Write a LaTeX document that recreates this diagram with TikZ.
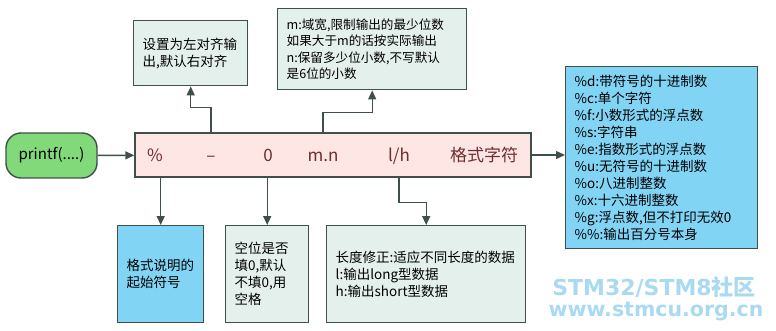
\documentclass[tikz,border=0pt]{standalone}
\usepackage{fontspec}
\setmainfont{Noto Sans CJK SC}
\newfontfamily\wmfont{DejaVu Sans}
\usetikzlibrary{arrows.meta}
\definecolor{edge}{HTML}{3F504B}
\definecolor{mint}{HTML}{E4F0EC}
\definecolor{sky}{HTML}{82D4F5}
\definecolor{rose}{HTML}{FDE6E3}
\definecolor{leaf}{HTML}{82D97A}
\definecolor{maroon}{HTML}{6E2E2E}
\definecolor{wmblue}{HTML}{A9DAF2}

\begin{document}
\begin{tikzpicture}[x=1pt, y=-1pt, line width=1.4pt,
    every node/.style={font=\fontsize{13.5}{17}\selectfont},
    box/.style={draw=edge, fill=mint, inner xsep=9pt, inner ysep=0pt, align=left, anchor=north west},
    sym/.style={text=maroon, anchor=base, font=\fontsize{17}{20}\selectfont},
    link/.style={draw=edge, -{Triangle[length=9pt, width=8pt]}},
    wm/.style={text=wmblue, anchor=base}]
  \useasboundingbox (0,0) rectangle (776,331);

  % entry and format string
  \node[draw=edge, fill=leaf, rounded corners=15pt, minimum width=91pt, minimum height=45pt,
        font=\fontsize{15}{18}\selectfont] (call) at (51.5,155.5) {printf(....)};
  \node[draw=edge, fill=rose, minimum width=396pt, minimum height=44pt] (fmt) at (333,155) {};
  \node[sym] (pct) at (155,162) {\%};
  \node[sym] (dash) at (211,162) {--};
  \node[sym] (zero) at (268,162) {0};
  \node[sym] (mn) at (323,162) {m.n};
  \node[sym] (lh) at (399,162) {l/h};
  \node[sym] (conv) at (484,162) {格式字符};

  % notes above
  \node[box, text width=96pt, minimum height=65pt] (align) at (133,20)
    {设置为左对齐输\\出,默认右对齐};
  \node[box, text width=171pt, minimum height=81pt, font=\fontsize{12.6}{16.5}\selectfont] (width) at (277,8)
    {m:域宽,限制输出的最少位数\\如果大于m的话按实际输出\\n:保留多少位小数,不写默认\\是6位的小数};

  % notes below
  \node[box, fill=sky, text width=68pt, minimum height=97pt] (sign) at (117,225)
    {格式说明的\\起始符号};
  \node[box, text width=65pt, minimum height=97pt] (pad) at (225,225)
    {空位是否\\填0,默认\\不填0,用\\空格};
  \node[box, text width=181pt, minimum height=97pt] (len) at (326,225)
    {长度修正:适应不同长度的数据\\l:输出long型数据\\h:输出short型数据};

  % conversion list
  \node[box, fill=sky, text width=174pt, minimum height=182pt] (spec) at (565,66)
    {\%d:带符号的十进制数\\\%c:单个字符\\\%f:小数形式的浮点数\\\%s:字符串\\\%e:指数形式的浮点数\\
     \%u:无符号的十进制数\\\%o:八进制整数\\\%x:十六进制整数\\\%g:浮点数,但不打印无效0\\\%\%:输出百分号本身};

  % connectors
  \draw[link] (call) -- (fmt);
  \draw[link] (fmt.east) -- (fmt.east -| spec.west);
  \draw[link] (dash |- fmt.north) -- ++(0,-25) -| (align.south);
  \draw[link] (mn |- fmt.north) -- ++(0,-20) -| (width.south);
  \draw[link] (sign.north |- fmt.south) -- (sign.north);
  \draw[link] (pad.north |- fmt.south) -- (pad.north);
  \draw[link] (lh |- fmt.south) -- ++(0,25) -| (len.north);

  % watermark
  \node[wm, font=\bfseries\fontsize{22}{22}\selectfont] (site) at (654,295) {{\wmfont STM32/STM8}社区};
  \node[wm, font=\wmfont\bfseries\fontsize{20.5}{21}\selectfont] (url) at (656,316) {www.stmcu.org.cn};
\end{tikzpicture}
\end{document}
